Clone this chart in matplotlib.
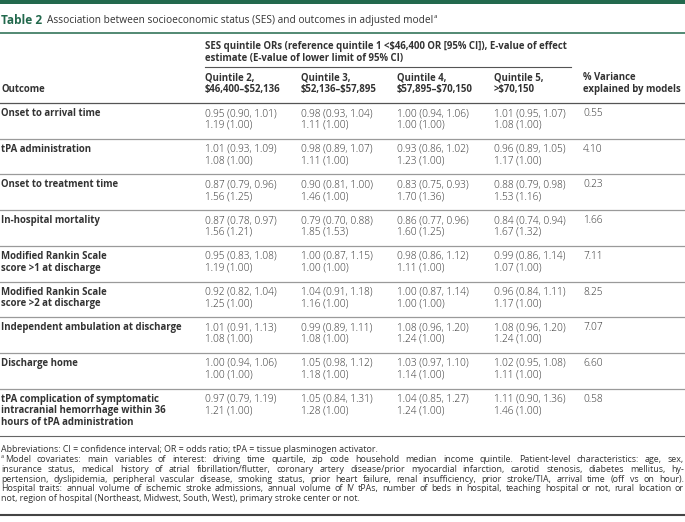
import matplotlib
matplotlib.use("Agg")
import matplotlib.pyplot as plt

# table content
outcomes = [
    "Onset to arrival time",
    "tPA administration",
    "Onset to treatment time",
    "In-hospital mortality",
    "Modified Rankin Scale\nscore >1 at discharge",
    "Modified Rankin Scale\nscore >2 at discharge",
    "Independent ambulation at discharge",
    "Discharge home",
    "tPA complication of symptomatic\nintracranial hemorrhage within 36\nhours of tPA administration",
]
col_headers = ["Quintile 2,\n$46,400–$52,136", "Quintile 3,\n$52,136–$57,895",
               "Quintile 4,\n$57,895–$70,150", "Quintile 5,\n>$70,150"]

# odds ratio, lower CI, upper CI, E-value, E-value of lower limit (per quintile)
q2 = [(0.95, 0.90, 1.01, 1.19, 1.00), (1.01, 0.93, 1.09, 1.08, 1.00), (0.87, 0.79, 0.96, 1.56, 1.25),
      (0.87, 0.78, 0.97, 1.56, 1.21), (0.95, 0.83, 1.08, 1.19, 1.00), (0.92, 0.82, 1.04, 1.25, 1.00),
      (1.01, 0.91, 1.13, 1.08, 1.00), (1.00, 0.94, 1.06, 1.00, 1.00), (0.97, 0.79, 1.19, 1.21, 1.00)]
q3 = [(0.98, 0.93, 1.04, 1.11, 1.00), (0.98, 0.89, 1.07, 1.11, 1.00), (0.90, 0.81, 1.00, 1.46, 1.00),
      (0.79, 0.70, 0.88, 1.85, 1.53), (1.00, 0.87, 1.15, 1.00, 1.00), (1.04, 0.91, 1.18, 1.16, 1.00),
      (0.99, 0.89, 1.11, 1.08, 1.00), (1.05, 0.98, 1.12, 1.18, 1.00), (1.05, 0.84, 1.31, 1.28, 1.00)]
q4 = [(1.00, 0.94, 1.06, 1.00, 1.00), (0.93, 0.86, 1.02, 1.23, 1.00), (0.83, 0.75, 0.93, 1.70, 1.36),
      (0.86, 0.77, 0.96, 1.60, 1.25), (0.98, 0.86, 1.12, 1.11, 1.00), (1.00, 0.87, 1.14, 1.00, 1.00),
      (1.08, 0.96, 1.20, 1.24, 1.00), (1.03, 0.97, 1.10, 1.14, 1.00), (1.04, 0.85, 1.27, 1.24, 1.00)]
q5 = [(1.01, 0.95, 1.07, 1.08, 1.00), (0.96, 0.89, 1.05, 1.17, 1.00), (0.88, 0.79, 0.98, 1.53, 1.16),
      (0.84, 0.74, 0.94, 1.67, 1.32), (0.99, 0.86, 1.14, 1.07, 1.00), (0.96, 0.84, 1.11, 1.17, 1.00),
      (1.08, 0.96, 1.20, 1.24, 1.00), (1.02, 0.95, 1.08, 1.11, 1.00), (1.11, 0.90, 1.36, 1.46, 1.00)]
variance = [0.55, 4.10, 0.23, 1.66, 7.11, 8.25, 7.07, 6.60, 0.58]

footnote_abbr = "Abbreviations: CI = confidence interval; OR = odds ratio; tPA = tissue plasminogen activator."
footnote_lines = [
    "Model covariates: main variables of interest: driving time quartile, zip code household median income quintile. Patient-level characteristics: age, sex,",
    "insurance status, medical history of atrial fibrillation/flutter, coronary artery disease/prior myocardial infarction, carotid stenosis, diabetes mellitus, hy-",
    "pertension, dyslipidemia, peripheral vascular disease, smoking status, prior heart failure, renal insufficiency, prior stroke/TIA, arrival time (off vs on hour).",
    "Hospital traits: annual volume of ischemic stroke admissions, annual volume of IV tPAs, number of beds in hospital, teaching hospital or not, rural location or",
    "not, region of hospital (Northeast, Midwest, South, West), primary stroke center or not.",
]

GREEN = "#23694d"
TXT = "#333333"
FS = 6.9      # bold labels
FSN = 7.3     # numbers
FS2 = 6.4     # footnotes

plt.rcParams["font.family"] = ["Open Sans", "DejaVu Sans"]
plt.rcParams["text.parse_math"] = False

fig = plt.figure(figsize=(6.85, 5.22), dpi=100)
ax = fig.add_axes([0, 0, 1, 1])
ax.set_xlim(0, 685)
ax.set_ylim(522, 0)
ax.axis("off")
fig.canvas.draw()
renderer = fig.canvas.get_renderer()


def width_of(t):
    return t.get_window_extent(renderer=renderer).width


# top band and title
ax.axhspan(0, 3.5, color=GREEN, lw=0)
t = ax.text(1, 21, "Table 2", fontsize=8.6, fontweight="bold", color=GREEN, va="center")
x = 1 + width_of(t) + 5
t = ax.text(x, 21, "Association between socioeconomic status (SES) and outcomes in adjusted model",
            fontsize=7.3, color=TXT, va="center")
x += width_of(t) + 0.5
ax.text(x, 17, "a", fontsize=4.6, color=TXT, va="center")
ax.plot([0, 685], [33, 33], color=GREEN, lw=1.1)

# column positions
col_x = [205, 301, 397, 494]
var_x = 583

ax.text(col_x[0], 46, "SES quintile ORs (reference quintile 1 <$46,400 OR [95% CI]), E-value of effect",
        fontsize=FS, fontweight="bold", color=TXT, va="center")
ax.text(col_x[0], 59, "estimate (E-value of lower limit of 95% CI)",
        fontsize=FS, fontweight="bold", color=TXT, va="center")
ax.plot([col_x[0], 571], [67, 67], color="#555555", lw=0.8)

for cx, h in zip(col_x + [var_x], col_headers + ["% Variance\nexplained by models"]):
    l1, l2 = h.split("\n")
    ax.text(cx, 77.5, l1, fontsize=FS, fontweight="bold", color=TXT, va="center")
    ax.text(cx, 89.5, l2, fontsize=FS, fontweight="bold", color=TXT, va="center")
ax.text(1, 89.5, "Outcome", fontsize=FS, fontweight="bold", color=TXT, va="center")
ax.plot([0, 685], [103, 103], color="#555555", lw=0.9)

# body rows
line_h = 11.7
top = 103
quintiles = [q2, q3, q4, q5]
for i, name in enumerate(outcomes):
    nlines = max(len(name.split("\n")), 2)
    y0 = top + 10.5
    for j, line in enumerate(name.split("\n")):
        ax.text(1, y0 + j * line_h, line, fontsize=FS, fontweight="bold", color=TXT, va="center")
    for cx, q in zip(col_x, quintiles):
        orv, lo, hi, ev, evl = q[i]
        ax.text(cx, y0, f"{orv:.2f} ({lo:.2f}, {hi:.2f})", fontsize=FSN, fontweight="light",
                color=TXT, va="center")
        ax.text(cx, y0 + line_h, f"{ev:.2f} ({evl:.2f})", fontsize=FSN, fontweight="light",
                color=TXT, va="center")
    ax.text(var_x, y0, f"{variance[i]:.2f}", fontsize=FSN, fontweight="light", color=TXT, va="center")
    top = top + nlines * line_h + 12.3
    if i < len(outcomes) - 1:
        ax.plot([0, 685], [top, top], color="#9a9a9a", lw=0.9)
    else:
        ax.plot([0, 685], [top, top], color="#666666", lw=0.8)

# footnotes
ax.text(1, 450, footnote_abbr, fontsize=FS2, color=TXT, va="center")


def justify(line, y, x0, x1):
    words = line.split(" ")
    objs = [ax.text(0, y, w, fontsize=FS2, color=TXT, va="center") for w in words]
    widths = [width_of(o) for o in objs]
    gap = (x1 - x0 - sum(widths)) / (len(words) - 1)
    xx = x0
    for o, w in zip(objs, widths):
        o.set_x(xx)
        xx += w + gap


fy = 459.5
ax.text(1, fy - 2.5, "a", fontsize=4.0, color=TXT, va="center")
for k, line in enumerate(footnote_lines):
    y = fy + k * 9.8
    if k == 0:
        justify(line, y, 5, 684)
    elif k < len(footnote_lines) - 1:
        justify(line, y, 1, 684)
    else:
        ax.text(1, y, line, fontsize=FS2, color=TXT, va="center")

ax.plot([0, 685], [515, 515], color="#444444", lw=1.5)

fig.savefig("out.png", dpi=100)
